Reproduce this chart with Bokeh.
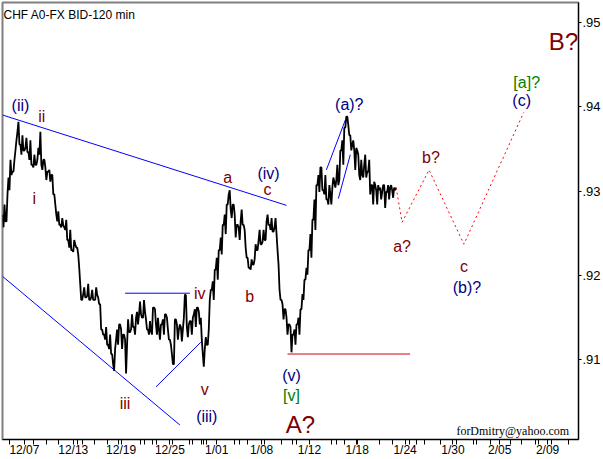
from bokeh.plotting import figure
from bokeh.models import Range1d, FixedTicker
from bokeh.embed import file_html
from bokeh.resources import INLINE
from bokeh.core.properties import value

title_text = "CHF A0-FX BID-120 min"
credit_text = "forDmitry@yahoo.com"

# x axis: 120-min bar index, labelled with dates
date_ticks = [22, 71, 119, 168, 215, 260, 308, 356, 404, 452, 499, 547]
date_labels = ["12/07", "12/13", "12/19", "12/25", "1/01", "1/08", "1/12",
               "1/18", "1/24", "1/30", "2/05", "2/09"]
day_ticks = [7, 31, 44, 56, 75, 80, 92, 105, 116, 138, 142, 151, 155, 171, 188, 191,
             200, 202, 205, 233, 238, 246, 263, 280, 291, 295, 330, 335, 343, 355, 378, 391,
             408, 415, 423, 440, 456, 473, 476, 490, 510, 521, 535, 538, 551, 568]
price_ticks = [0.91, 0.92, 0.93, 0.94, 0.95]
price_labels = [".91", ".92", ".93", ".94", ".95"]

# price, one value per 120-min bar
bars = list(range(0, 396))
close = [
    0.9272, 0.9257, 0.9284, 0.9264, 0.9264, 0.9296, 0.9316, 0.9301, 0.9337, 0.9319,
    0.9323, 0.9323, 0.9337, 0.9348, 0.9360, 0.9370, 0.9382, 0.9355, 0.9355, 0.9343,
    0.9366, 0.9348, 0.9348, 0.9351, 0.9363, 0.9346, 0.9346, 0.9337, 0.9360, 0.9331,
    0.9331, 0.9328, 0.9343, 0.9331, 0.9331, 0.9337, 0.9351, 0.9343, 0.9370, 0.9331,
    0.9325, 0.9337, 0.9337, 0.9328, 0.9313, 0.9323, 0.9323, 0.9325, 0.9311, 0.9319,
    0.9319, 0.9296, 0.9296, 0.9284, 0.9272, 0.9264, 0.9276, 0.9260, 0.9260, 0.9257,
    0.9268, 0.9259, 0.9257, 0.9254, 0.9266, 0.9242, 0.9242, 0.9233, 0.9254, 0.9230,
    0.9230, 0.9228, 0.9242, 0.9237, 0.9233, 0.9233, 0.9225, 0.9209, 0.9190, 0.9171,
    0.9171, 0.9178, 0.9186, 0.9174, 0.9174, 0.9176, 0.9190, 0.9171, 0.9171, 0.9174,
    0.9183, 0.9171, 0.9171, 0.9171, 0.9186, 0.9177, 0.9174, 0.9166, 0.9166, 0.9136,
    0.9136, 0.9130, 0.9130, 0.9124, 0.9139, 0.9118, 0.9118, 0.9113, 0.9130, 0.9107,
    0.9107, 0.9095, 0.9087, 0.9113, 0.9124, 0.9136, 0.9118, 0.9142, 0.9142, 0.9136,
    0.9113, 0.9130, 0.9130, 0.9124, 0.9084, 0.9118, 0.9148, 0.9133, 0.9133, 0.9136,
    0.9154, 0.9139, 0.9139, 0.9130, 0.9150, 0.9157, 0.9142, 0.9154, 0.9169, 0.9154,
    0.9150, 0.9150, 0.9171, 0.9157, 0.9148, 0.9136, 0.9136, 0.9130, 0.9146, 0.9134,
    0.9130, 0.9162, 0.9162, 0.9160, 0.9142, 0.9130, 0.9150, 0.9136, 0.9124, 0.9142,
    0.9142, 0.9148, 0.9130, 0.9154, 0.9154, 0.9150, 0.9136, 0.9124, 0.9124, 0.9118,
    0.9107, 0.9095, 0.9095, 0.9148, 0.9148, 0.9142, 0.9124, 0.9136, 0.9142, 0.9139,
    0.9122, 0.9136, 0.9150, 0.9177, 0.9177, 0.9139, 0.9127, 0.9142, 0.9146, 0.9146,
    0.9130, 0.9150, 0.9154, 0.9160, 0.9139, 0.9162, 0.9162, 0.9157, 0.9142, 0.9150,
    0.9124, 0.9107, 0.9092, 0.9113, 0.9127, 0.9118, 0.9118, 0.9136, 0.9171, 0.9183,
    0.9183, 0.9193, 0.9171, 0.9207, 0.9207, 0.9221, 0.9195, 0.9230, 0.9230, 0.9245,
    0.9225, 0.9260, 0.9260, 0.9272, 0.9249, 0.9284, 0.9284, 0.9296, 0.9301, 0.9278,
    0.9268, 0.9284, 0.9284, 0.9272, 0.9245, 0.9260, 0.9260, 0.9257, 0.9242, 0.9264,
    0.9278, 0.9260, 0.9260, 0.9254, 0.9233, 0.9221, 0.9221, 0.9209, 0.9209, 0.9207,
    0.9219, 0.9213, 0.9213, 0.9219, 0.9237, 0.9230, 0.9230, 0.9242, 0.9254, 0.9237,
    0.9237, 0.9240, 0.9254, 0.9242, 0.9242, 0.9264, 0.9272, 0.9260, 0.9260, 0.9254,
    0.9268, 0.9252, 0.9252, 0.9257, 0.9268, 0.9249, 0.9230, 0.9213, 0.9183, 0.9171,
    0.9171, 0.9166, 0.9148, 0.9160, 0.9160, 0.9150, 0.9130, 0.9142, 0.9142, 0.9139,
    0.9109, 0.9130, 0.9130, 0.9136, 0.9118, 0.9142, 0.9142, 0.9150, 0.9130, 0.9160,
    0.9160, 0.9178, 0.9171, 0.9195, 0.9195, 0.9209, 0.9201, 0.9230, 0.9230, 0.9249,
    0.9221, 0.9266, 0.9266, 0.9290, 0.9254, 0.9307, 0.9307, 0.9319, 0.9299, 0.9328,
    0.9328, 0.9301, 0.9301, 0.9296, 0.9319, 0.9290, 0.9290, 0.9284, 0.9307, 0.9296,
    0.9284, 0.9304, 0.9316, 0.9311, 0.9304, 0.9313, 0.9331, 0.9307, 0.9313, 0.9348,
    0.9348, 0.9360, 0.9331, 0.9375, 0.9375, 0.9388, 0.9388, 0.9378, 0.9366, 0.9366,
    0.9348, 0.9355, 0.9360, 0.9348, 0.9325, 0.9351, 0.9348, 0.9343, 0.9319, 0.9313,
    0.9337, 0.9319, 0.9316, 0.9331, 0.9343, 0.9316, 0.9323, 0.9323, 0.9337, 0.9296,
    0.9307, 0.9307, 0.9284, 0.9311, 0.9307, 0.9301, 0.9284, 0.9307, 0.9301, 0.9304,
    0.9290, 0.9299, 0.9307, 0.9307, 0.9280, 0.9299, 0.9299, 0.9307, 0.9290, 0.9304,
    0.9307, 0.9301, 0.9292, 0.9304, 0.9301, 0.9304,
]

# forecast path (red dotted)
forecast_bar = [395, 401, 428, 463, 523]
forecast_price = [0.9304, 0.9263, 0.9325, 0.9237, 0.9393]

# blue trend lines
blue_bars = [[0, 285], [0, 178], [123, 188], [154, 199], [325, 344], [337, 349]]
blue_prices = [[0.9390, 0.9283], [0.9199, 0.9023], [0.9179, 0.9179],
               [0.9068, 0.9121], [0.9325, 0.9384], [0.9291, 0.9343]]

# red horizontal level under wave (v)
level_bar = [286, 409]
level_price = [0.9107, 0.9107]

# wave labels
navy_text = ["(ii)", "(iii)", "(iv)", "(v)", "(a)?", "(b)?", "(c)"]
navy_x = [18, 205, 267, 290, 348, 466, 521]
navy_y = [0.94016, 0.90336, 0.93212, 0.90814, 0.94027, 0.91854, 0.94075]

red_text = ["ii", "i", "iii", "iv", "v", "a", "c", "b", "b?", "a?", "c"]
red_x = [39.5, 32, 123, 198, 203, 226, 266, 248, 430, 401, 463]
red_y = [0.93886, 0.92917, 0.90484, 0.91783, 0.90649, 0.93165, 0.93023,
         0.91748, 0.93401, 0.92338, 0.92102]

green_text = ["[v]", "[a]?"]
green_x = [290, 526]
green_y = [0.90578, 0.94287]

big_text = ["A?", "B?"]
big_x = [299, 563]
big_y = [0.90236, 0.94772]

p = figure(width=603, height=459, x_range=Range1d(0, 578),
           y_range=Range1d(0.90058, 0.95232), y_axis_location="right",
           toolbar_location=None, output_backend="svg",
           min_border_left=2, min_border_top=2, min_border_right=23,
           min_border_bottom=19)
p.background_fill_color = "white"
p.border_fill_color = "white"
p.outline_line_color = "#808080"
p.outline_line_width = 2
p.xgrid.visible = False
p.ygrid.visible = False

xa = p.xaxis[0]
xa.ticker = FixedTicker(ticks=date_ticks, minor_ticks=day_ticks)
xa.major_label_overrides = {t: l for t, l in zip(date_ticks, date_labels)}
xa.axis_line_color = "black"
xa.major_tick_line_color = "black"
xa.minor_tick_line_color = "black"
xa.major_tick_out = 5
xa.major_tick_in = 0
xa.minor_tick_out = 5
xa.minor_tick_in = 0
xa.major_label_standoff = -2
xa.major_label_text_font = "Liberation Sans"
xa.major_label_text_font_size = "12px"
xa.major_label_text_color = "black"

ya = p.yaxis[0]
ya.ticker = FixedTicker(ticks=price_ticks)
ya.major_label_overrides = {t: l for t, l in zip(price_ticks, price_labels)}
ya.axis_line_color = "black"
ya.major_tick_line_color = "black"
ya.major_tick_out = 3
ya.major_tick_in = 0
ya.minor_tick_line_color = None
ya.major_label_standoff = 1
ya.major_label_text_font = "Liberation Sans"
ya.major_label_text_font_size = "13px"
ya.major_label_text_color = "black"

p.multi_line(xs=blue_bars, ys=blue_prices, line_color="#0000ff", line_width=1)
p.line(level_bar, level_price, line_color="#d00000", line_width=1)
p.line(bars, close, line_color="black", line_width=1.8)
p.line(forecast_bar, forecast_price, line_color="#ff0000", line_width=1,
       line_dash="2 3")

font = value("Liberation Sans")
p.text(x=navy_x, y=navy_y, text=navy_text, text_color="#000080",
       text_font=font, text_font_size="16px", text_align="center",
       text_baseline="alphabetic")
p.text(x=red_x, y=red_y, text=red_text, text_color="#800000",
       text_font=font, text_font_size="16px", text_align="center",
       text_baseline="alphabetic")
p.text(x=green_x, y=green_y, text=green_text, text_color="#008000",
       text_font=font, text_font_size="16px", text_align="center",
       text_baseline="alphabetic")
p.text(x=big_x, y=big_y, text=big_text, text_color="#800000",
       text_font=font, text_font_size="24px", text_align="center",
       text_baseline="alphabetic")
p.text(x=[1], y=[0.95079], text=[title_text], text_color="black",
       text_font=font, text_font_size="12px", text_align="left",
       text_baseline="alphabetic")
p.text(x=[512], y=[0.90153], text=[credit_text], text_color="black",
       text_font=value("Liberation Serif"), text_font_size="12px",
       text_align="center", text_baseline="alphabetic")

open("out.html", "w").write(file_html(p, INLINE))
